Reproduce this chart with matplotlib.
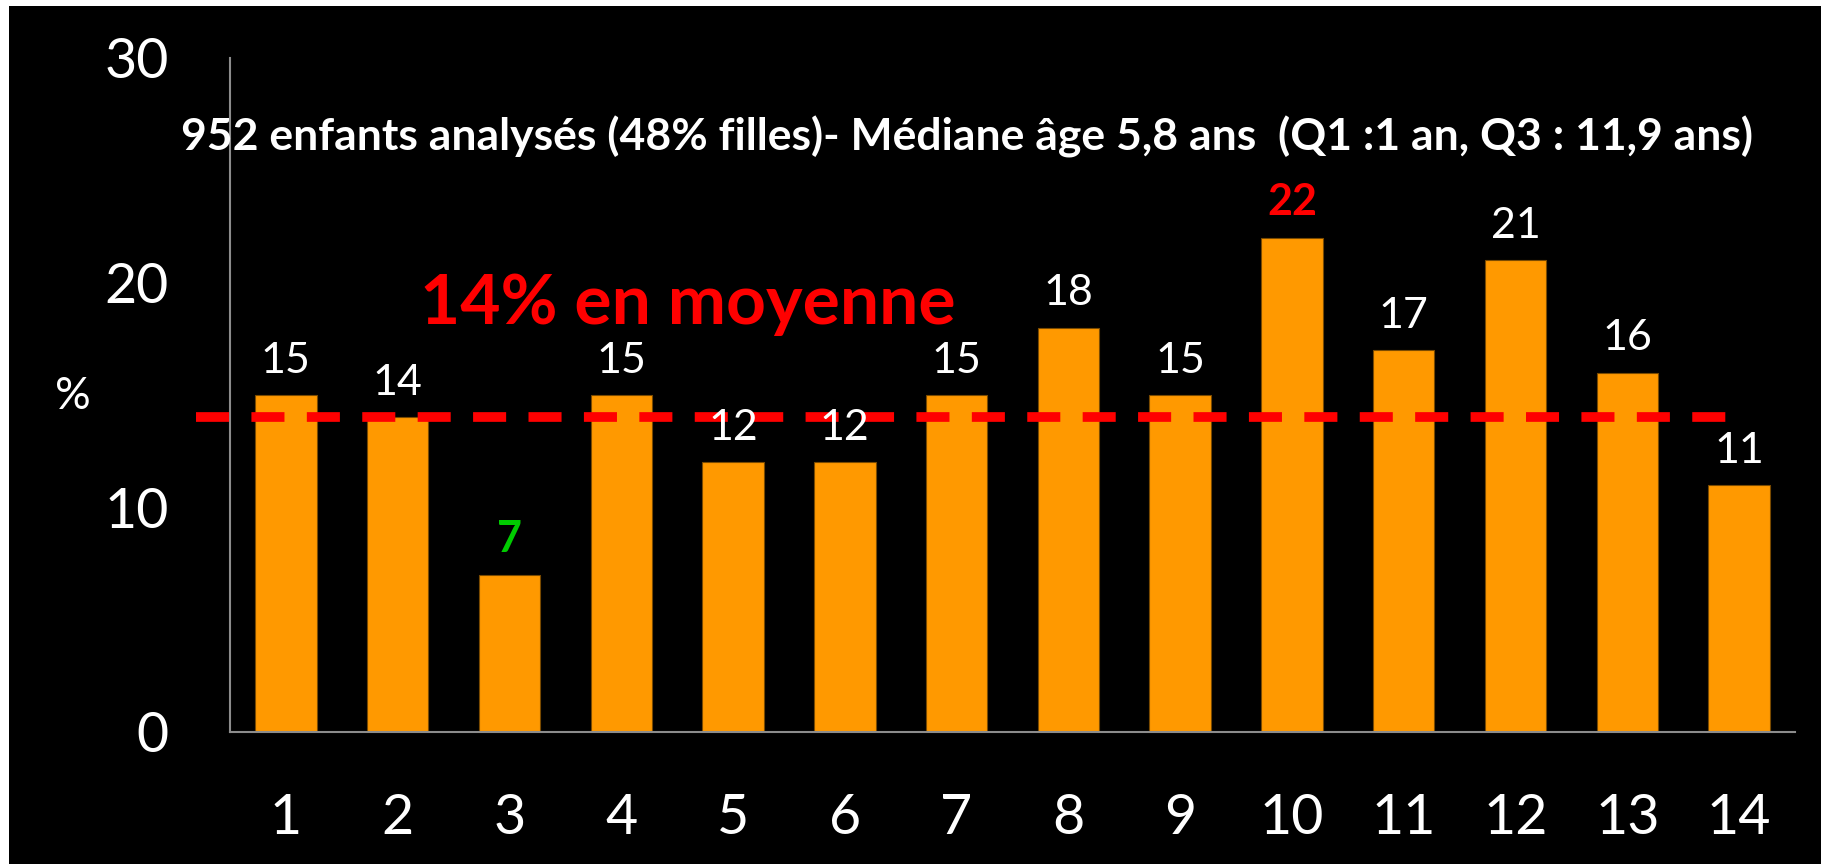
import matplotlib
matplotlib.use('Agg')
import matplotlib.pyplot as plt
from matplotlib.patches import Rectangle

plt.rcParams['font.family'] = ['Lato', 'DejaVu Sans']

# données
categories = [str(i) for i in range(1, 15)]
values = [15, 14, 7, 15, 12, 12, 15, 18, 15, 22, 17, 21, 16, 11]
label_colors = ['white'] * 14
label_colors[2] = '#00CC00'   # minimum
label_colors[9] = '#FF0000'   # maximum
mean_value = 14

title = "952 enfants analysés (48% filles)- Médiane âge 5,8 ans  (Q1 :1 an, Q3 : 11,9 ans)"
mean_text = "14% en moyenne"

W, H = 1821, 864
fig = plt.figure(figsize=(W / 100, H / 100), dpi=100, facecolor='black')
# petite marge blanche en haut et à gauche
fig.patches.append(Rectangle((0, 1 - 6 / H), 1, 6 / H, transform=fig.transFigure,
                             facecolor='white', edgecolor='none'))
fig.patches.append(Rectangle((0, 0), 9 / W, 1, transform=fig.transFigure,
                             facecolor='white', edgecolor='none'))

ax = fig.add_axes([230 / W, 1 - 732 / H, (1795 - 230) / W, (732 - 58) / H])
ax.set_facecolor('black')
ax.set_zorder(2)

x = list(range(1, len(values) + 1))
bars = ax.bar(x, values, width=0.55, color='#FF9900', edgecolor='#7A4A00',
              linewidth=0.8, zorder=2)

ax.set_xlim(0.5, len(values) + 0.5)
ax.set_ylim(0, 30)
ax.set_yticks([0, 10, 20, 30])
ax.set_xticks(x)
ax.set_xticklabels(categories)
ax.tick_params(axis='both', length=0, colors='white', labelsize=40)
ax.tick_params(axis='y', pad=44)
ax.tick_params(axis='x', pad=44)

for s in ['top', 'right']:
    ax.spines[s].set_visible(False)
for s in ['left', 'bottom']:
    ax.spines[s].set_color('#8C8C8C')
    ax.spines[s].set_linewidth(1.5)

# ligne moyenne
ax.plot([0.2, len(values) - 0.03], [mean_value, mean_value], color='#FF0000', lw=7,
        dashes=(3.4, 2.3), clip_on=False, zorder=3)

# étiquettes de valeurs
for xi, v, c in zip(x, values, label_colors):
    bold = c != 'white'
    ax.annotate(str(v), (xi, v), xytext=(0, 11), textcoords='offset points',
                ha='center', va='bottom', color=c, fontsize=31,
                fontweight='bold' if bold else 'normal', zorder=4)

fig.text(73 / W, 1 - 397 / H, '%', ha='center', va='center', color='white', fontsize=32)
fig.text(967 / W, 1 - 137 / H, title, ha='center', va='center', color='white',
         fontsize=32, fontweight='bold', zorder=5)
fig.text(688 / W, 1 - 304 / H, mean_text, ha='center', va='center', color='#FF0000',
         fontsize=50, fontweight='bold', zorder=5)

fig.savefig('out.png', dpi=100, facecolor=fig.get_facecolor())
